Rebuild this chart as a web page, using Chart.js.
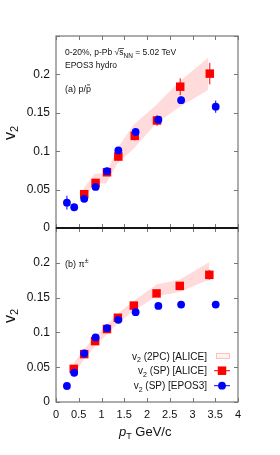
<!DOCTYPE html>
<html>
<head>
<meta charset="utf-8">
<script src="https://cdn.jsdelivr.net/npm/chart.js@4.4.0/dist/chart.umd.min.js"></script>
<style>
body{margin:0;background:#fff}
#wrap{position:relative;width:280px;height:455px}
canvas{position:absolute;left:0;top:0}
</style>
</head>
<body>
<div id="wrap">
<canvas id="cA" width="280" height="455"></canvas>
<canvas id="cB" width="280" height="455"></canvas>
</div>
<script>
// (a) p/pbar
const ptEposA = [0.24, 0.40, 0.62, 0.87, 1.12, 1.37, 1.75, 2.25, 2.75, 3.51];
const v2EposA = [0.033, 0.027, 0.038, 0.0535, 0.074, 0.101, 0.125, 0.141, 0.1665, 0.158];
const errEposA = [0.009, 0.003, 0.003, 0.003, 0.003, 0.004, 0.004, 0.004, 0.005, 0.008];
const ptSpA = [0.62, 0.87, 1.12, 1.37, 1.73, 2.22, 2.73, 3.38];
const v2SpA = [0.044, 0.0587, 0.0726, 0.093, 0.120, 0.140, 0.184, 0.201];
const errSpA = [0.004, 0.004, 0.004, 0.005, 0.006, 0.007, 0.011, 0.014];
const ptBandA = [0.6, 0.85, 1.1, 1.35, 1.7, 2.2, 2.7, 3.35];
const bandHiA = [0.051, 0.071, 0.071, 0.104, 0.134, 0.160, 0.190, 0.222];
const bandLoA = [0.036, 0.058, 0.058, 0.084, 0.103, 0.136, 0.157, 0.180];

// (b) pi+-
const ptEposB = [0.24, 0.40, 0.62, 0.87, 1.12, 1.37, 1.75, 2.25, 2.75, 3.51];
const v2EposB = [0.023, 0.042, 0.0697, 0.0928, 0.106, 0.118, 0.129, 0.138, 0.140, 0.140];
const errEposB = [0.002, 0.002, 0.002, 0.002, 0.002, 0.002, 0.002, 0.002, 0.002, 0.002];
const ptSpB = [0.39, 0.62, 0.86, 1.12, 1.36, 1.71, 2.21, 2.72, 3.37];
const v2SpB = [0.0476, 0.0688, 0.0875, 0.1048, 0.121, 0.1385, 0.156, 0.1668, 0.1827];
const errSpB = [0.003, 0.003, 0.003, 0.003, 0.003, 0.004, 0.004, 0.005, 0.007];
const ptBandB = [0.39, 0.62, 0.86, 1.12, 1.36, 1.71, 2.21, 2.72, 3.37];
const bandHiB = [0.056, 0.076, 0.094, 0.111, 0.127, 0.145, 0.169, 0.176, 0.201];
const bandLoB = [0.038, 0.062, 0.080, 0.097, 0.113, 0.131, 0.152, 0.158, 0.176];

const xTicks = [0, 0.5, 1, 1.5, 2, 2.5, 3, 3.5, 4];
const yTicks = [0, 0.05, 0.1, 0.15, 0.2, 0.25];

const FONT = '"Liberation Sans", Arial, sans-serif';
const pts = (xs, ys) => xs.map((x, i) => ({x: x, y: ys[i]}));

// draw a run of text pieces [text, size, dy, italic]
function rich(ctx, parts, x, y, align) {
  let w = 0;
  parts.forEach(p => { ctx.font = (p[3] ? 'italic ' : '') + p[1] + 'px ' + FONT; w += ctx.measureText(p[0]).width; });
  let cx = align == 'right' ? x - w : align == 'center' ? x - w / 2 : x;
  parts.forEach(p => {
    ctx.font = (p[3] ? 'italic ' : '') + p[1] + 'px ' + FONT;
    ctx.fillText(p[0], cx, y + (p[2] || 0));
    cx += ctx.measureText(p[0]).width;
  });
  return cx;
}

const errorBars = {
  id: 'errorBars',
  beforeDatasetsDraw(chart) {
    const ctx = chart.ctx, ys = chart.scales.y;
    chart.data.datasets.forEach((ds, i) => {
      if (!ds.errs) return;
      const meta = chart.getDatasetMeta(i);
      ctx.save();
      ctx.strokeStyle = ds.backgroundColor;
      ctx.lineWidth = 1;
      meta.data.forEach((el, j) => {
        const v = ds.data[j].y, e = ds.errs[j];
        ctx.beginPath();
        ctx.moveTo(el.x, ys.getPixelForValue(v - e));
        ctx.lineTo(el.x, ys.getPixelForValue(v + e));
        ctx.stroke();
      });
      ctx.restore();
    });
  }
};

const frame = {
  id: 'frame',
  afterDatasetsDraw(chart, args, opts) {
    const ctx = chart.ctx, a = chart.chartArea, xs = chart.scales.x, ys = chart.scales.y;
    ctx.save();
    ctx.strokeStyle = '#777';
    ctx.lineWidth = 1;
    ctx.beginPath();
    xTicks.forEach(t => {
      const px = Math.round(xs.getPixelForValue(t)) + 0.5;
      ctx.moveTo(px, a.top); ctx.lineTo(px, a.top + 4);
      ctx.moveTo(px, a.bottom); ctx.lineTo(px, a.bottom - 4);
    });
    yTicks.forEach(t => {
      const py = Math.round(ys.getPixelForValue(t)) + 0.5;
      ctx.moveTo(a.left, py); ctx.lineTo(a.left + 4, py);
      ctx.moveTo(a.right, py); ctx.lineTo(a.right - 4, py);
    });
    ctx.stroke();
    ctx.lineWidth = 1.2;
    ctx.strokeRect(a.left, a.top, a.right - a.left, a.bottom - a.top);
    // line at v2 = 0 between the panels
    ctx.strokeStyle = '#000';
    ctx.lineWidth = 1.5;
    ctx.beginPath();
    const ly = opts.zeroSide == 'bottom' ? a.bottom : a.top;
    ctx.moveTo(a.left, ly); ctx.lineTo(a.right, ly);
    ctx.stroke();
    ctx.restore();
  },
  afterDraw(chart, args, opts) {
    const ctx = chart.ctx;
    ctx.save();
    ctx.fillStyle = '#111';
    ctx.textBaseline = 'alphabetic';
    opts.texts(ctx, chart);
    ctx.restore();
  }
};

function yLabel(ctx, x, y) {
  ctx.save();
  ctx.translate(x, y);
  ctx.rotate(-Math.PI / 2);
  rich(ctx, [['v', 16], ['2', 11, 3]], 0, 0, 'left');
  ctx.restore();
}

function makeChart(id, data, top, bottom, showX, zeroSide, texts) {
  return new Chart(document.getElementById(id), {
    type: 'line',
    data: data,
    plugins: [errorBars, frame],
    options: {
      responsive: false,
      animation: false,
      layout: {padding: {top: top, bottom: bottom, left: 0, right: 42}},
      plugins: {legend: {display: false}, tooltip: {enabled: false}, frame: {zeroSide: zeroSide, texts: texts}},
      scales: {
        x: {
          type: 'linear', min: 0, max: 4,
          grid: {display: false, drawTicks: false}, border: {display: false},
          afterBuildTicks: s => { s.ticks = xTicks.map(v => ({value: v})); },
          afterFit: s => { s.height = showX ? 53 : 0; },
          ticks: {display: showX, padding: 6, color: '#111', font: {family: FONT, size: 11},
            callback: v => String(v)}
        },
        y: {
          min: 0, max: 0.25,
          grid: {display: false, drawTicks: false}, border: {display: false},
          afterBuildTicks: s => { s.ticks = yTicks.filter(v => v < 0.24).map(v => ({value: v})); },
          afterFit: s => { s.width = 56; },
          ticks: {padding: 6, color: '#111', font: {family: FONT, size: 12},
            callback: v => String(Number(v.toFixed(2)))}
        }
      }
    }
  });
}

function sets(ptE, v2E, errE, ptS, v2S, errS, ptB, hi, lo) {
  return {datasets: [
    {data: pts(ptE, v2E), errs: errE, showLine: false, order: 1, pointStyle: 'circle', pointRadius: 3.9,
     backgroundColor: '#0000ff', borderWidth: 0},
    {data: pts(ptS, v2S), errs: errS, showLine: false, order: 2, pointStyle: 'rect', pointRadius: 6,
     backgroundColor: '#ff0000', borderWidth: 0},
    {data: pts(ptB, hi), fill: '+1', order: 3, pointRadius: 0, borderWidth: 0,
     backgroundColor: 'rgba(255,0,0,0.14)', tension: 0},
    {data: pts(ptB, lo), fill: false, order: 4, pointRadius: 0, borderWidth: 0, tension: 0}
  ]};
}

makeChart('cA', sets(ptEposA, v2EposA, errEposA, ptSpA, v2SpA, errSpA, ptBandA, bandHiA, bandLoA),
  36, 227, false, 'bottom', (ctx) => {
    let e = rich(ctx, [['0-20%, p-Pb ', 8.5]], 65, 55, 'left');
    ctx.font = '8.5px ' + FONT;
    ctx.fillText('\u221A', e, 55);
    const sq = ctx.measureText('\u221A').width;
    ctx.fillText('s', e + sq, 55);
    const sw = ctx.measureText('s').width;
    ctx.fillRect(e + sq - 0.5, 48, sw + 1, 0.7);
    rich(ctx, [['NN', 6.5, 2.5], [' = 5.02 TeV', 8.5]], e + sq + sw, 55, 'left');
    rich(ctx, [['EPOS3 hydro', 8.5]], 65, 68, 'left');
    const end = rich(ctx, [['(a) p/p', 9]], 65, 92, 'left');
    ctx.font = '9px ' + FONT;
    const pw = ctx.measureText('p').width;
    ctx.fillRect(end - pw + 1, 84.5, pw - 2, 0.8);
    yLabel(ctx, 15, 140);
  });

makeChart('cB', sets(ptEposB, v2EposB, errEposB, ptSpB, v2SpB, errSpB, ptBandB, bandHiB, bandLoB),
  228, 0, true, 'top', (ctx) => {
    rich(ctx, [['(b) \u03C0', 9], ['\u00B1', 7, -4]], 65, 267, 'left');
    yLabel(ctx, 15, 323);
    rich(ctx, [['p', 13, 0, true], ['T', 9, 3], [' GeV/c', 13]], 119, 436, 'left');
    // legend
    const rows = [356, 370.7, 385.7];
    const names = [' (2PC) [ALICE]', ' (SP) [ALICE]', ' (SP) [EPOS3]'];
    rows.forEach((r, i) => rich(ctx, [['v', 10], ['2', 7, 2.5], [names[i], 10]], 207, r + 3.5, 'right'));
    ctx.fillStyle = 'rgba(255,0,0,0.05)';
    ctx.fillRect(216.5, 353.5, 13, 5);
    ctx.strokeStyle = '#ffc0c0';
    ctx.lineWidth = 1;
    ctx.strokeRect(216.5, 353.5, 13, 5);
    ctx.strokeStyle = '#ff0000';
    ctx.beginPath(); ctx.moveTo(214, rows[1]); ctx.lineTo(230, rows[1]); ctx.stroke();
    ctx.fillStyle = '#ff0000';
    ctx.fillRect(217.75, rows[1] - 4.25, 8.5, 8.5);
    ctx.strokeStyle = '#0000ff';
    ctx.beginPath(); ctx.moveTo(214, rows[2]); ctx.lineTo(230, rows[2]); ctx.stroke();
    ctx.fillStyle = '#0000ff';
    ctx.beginPath(); ctx.arc(222, rows[2], 3.9, 0, Math.PI * 2); ctx.fill();
  });
</script>
</body>
</html>
